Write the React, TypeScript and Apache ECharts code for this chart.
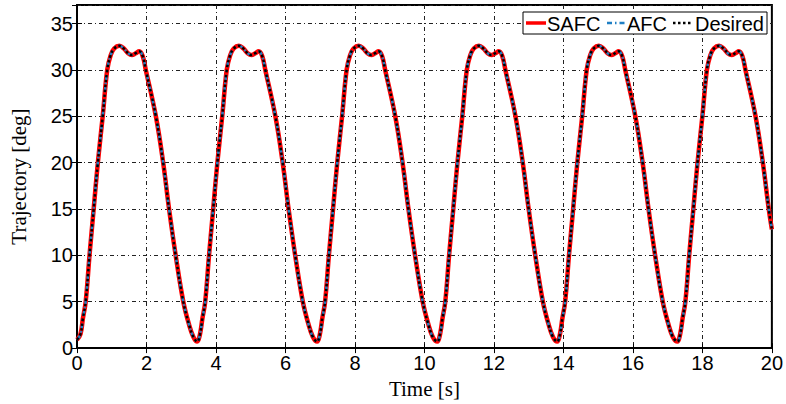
import React, { useEffect, useRef } from "react";
import * as echarts from "echarts";

// Time [s] and trajectory [deg] (all three curves overlap)
const time: number[] = [
  0, 0.10, 0.17, 0.25, 0.36, 0.48, 0.60, 0.74, 0.87, 0.97, 1.07, 1.22, 1.35, 1.47, 1.58, 1.69, 1.79, 1.89, 1.98, 2.27, 2.48, 2.65, 2.84, 3.06, 3.22, 3.35,
  3.46, 3.54, 3.61, 3.69, 3.80, 3.92, 4.04, 4.18, 4.31, 4.41, 4.51, 4.66, 4.79, 4.91, 5.02, 5.13, 5.23, 5.33, 5.42, 5.71, 5.92, 6.09, 6.28, 6.50, 6.66, 6.79,
  6.91, 6.99, 7.06, 7.14, 7.25, 7.37, 7.49, 7.63, 7.76, 7.86, 7.96, 8.11, 8.24, 8.36, 8.47, 8.58, 8.68, 8.78, 8.87, 9.16, 9.37, 9.54, 9.73, 9.95, 10.11, 10.24,
  10.37, 10.45, 10.52, 10.60, 10.71, 10.83, 10.95, 11.09, 11.22, 11.32, 11.42, 11.57, 11.70, 11.82, 11.93, 12.04, 12.14, 12.24, 12.33, 12.62, 12.83, 13.00, 13.19, 13.41, 13.57, 13.70,
  13.82, 13.90, 13.97, 14.05, 14.16, 14.28, 14.40, 14.54, 14.67, 14.77, 14.87, 15.02, 15.15, 15.27, 15.38, 15.49, 15.59, 15.69, 15.78, 16.07, 16.28, 16.45, 16.64, 16.86, 17.02, 17.15,
  17.28, 17.36, 17.43, 17.51, 17.62, 17.74, 17.86, 18.00, 18.13, 18.23, 18.33, 18.48, 18.61, 18.73, 18.84, 18.95, 19.05, 19.15, 19.24, 19.53, 19.74, 19.91, 20.0,
];

const desired: number[] = [
  0.9, 1.5, 3.2, 5, 10, 15, 20, 25, 30, 31.6, 32.3, 32.6, 32.3, 31.8, 31.6, 31.8, 32.0, 31.5, 30, 25, 20, 15, 10, 5, 2.6, 1.2,
  0.7, 1.5, 3.2, 5, 10, 15, 20, 25, 30, 31.6, 32.3, 32.6, 32.3, 31.8, 31.6, 31.8, 32.0, 31.5, 30, 25, 20, 15, 10, 5, 2.6, 1.2,
  0.7, 1.5, 3.2, 5, 10, 15, 20, 25, 30, 31.6, 32.3, 32.6, 32.3, 31.8, 31.6, 31.8, 32.0, 31.5, 30, 25, 20, 15, 10, 5, 2.6, 1.2,
  0.7, 1.5, 3.2, 5, 10, 15, 20, 25, 30, 31.6, 32.3, 32.6, 32.3, 31.8, 31.6, 31.8, 32.0, 31.5, 30, 25, 20, 15, 10, 5, 2.6, 1.2,
  0.7, 1.5, 3.2, 5, 10, 15, 20, 25, 30, 31.6, 32.3, 32.6, 32.3, 31.8, 31.6, 31.8, 32.0, 31.5, 30, 25, 20, 15, 10, 5, 2.6, 1.2,
  0.7, 1.5, 3.2, 5, 10, 15, 20, 25, 30, 31.6, 32.3, 32.6, 32.3, 31.8, 31.6, 31.8, 32.0, 31.5, 30, 25, 20, 15, 12.8,
];

// The SAFC and AFC responses track the desired trajectory so closely that they coincide in the picture
const safc: number[] = desired.slice();
const afc: number[] = desired.slice();

const seriesNames = ["SAFC", "AFC", "Desired"];
const seriesColors = ["#ff0000", "#1f7fc4", "#000000"];

const toPairs = (vals: number[]) => vals.map((v, i) => [time[i], v]);

export default function App() {
  const ref = useRef<HTMLDivElement>(null);

  useEffect(() => {
    if (!ref.current) return;
    const chart = echarts.init(ref.current, undefined, { renderer: "svg" });

    const gridLine = { show: true, lineStyle: { color: "#222", width: 1, type: [4, 3, 1, 3] as any } };
    const sansFamily = "'Liberation Sans', Arial, Helvetica, sans-serif";
    const tickFont = { fontFamily: sansFamily, fontSize: 20, color: "#000" };
    const titleFont = { fontFamily: "'Liberation Serif', 'Times New Roman', serif", fontSize: 21, color: "#000" };

    const lineStyles = [
      { color: seriesColors[0], width: 4.5, type: "solid" },
      { color: seriesColors[1], width: 2.5, type: [5, 3, 1.5, 3] },
      { color: seriesColors[2], width: 2.5, type: [2.5, 2.5] },
    ];

    // Legend drawn as graphic (line samples without markers, as in the reference)
    const legendY = 23;
    const legendItems = [
      { x1: 526, x2: 546, tx: 547 },
      { x1: 607, x2: 626, tx: 627 },
      { x1: 673, x2: 693, tx: 695 },
    ];
    const legendGraphic: any[] = [
      {
        type: "rect",
        shape: { x: 523, y: 12, width: 244, height: 22 },
        style: { fill: "#fff", stroke: "#000", lineWidth: 1 },
        z: 100,
      },
    ];
    legendItems.forEach((it, i) => {
      const ls = lineStyles[i];
      legendGraphic.push({
        type: "line",
        shape: { x1: it.x1, y1: legendY, x2: it.x2, y2: legendY },
        style: {
          stroke: ls.color,
          lineWidth: i === 0 ? 3.5 : 2.5,
          lineDash: Array.isArray(ls.type) ? ls.type : null,
        },
        z: 101,
      });
      legendGraphic.push({
        type: "text",
        x: it.tx,
        y: legendY + 1,
        style: {
          text: seriesNames[i],
          fill: "#000",
          font: `20px ${sansFamily}`,
          textAlign: "left",
          textVerticalAlign: "middle",
        },
        z: 101,
      });
    });

    chart.setOption({
      animation: false,
      backgroundColor: "#fff",
      grid: {
        left: 74,
        right: 11,
        top: 5,
        bottom: 47,
        show: true,
        borderColor: "#000",
        borderWidth: 2,
        backgroundColor: "transparent",
      },
      graphic: legendGraphic,
      xAxis: [
        {
          type: "value",
          min: 0,
          max: 20,
          interval: 2,
          position: "bottom",
          name: "Time [s]",
          nameLocation: "middle",
          nameGap: 26,
          nameTextStyle: titleFont,
          axisLine: { show: true, lineStyle: { color: "#000", width: 2 } },
          axisTick: { show: true, inside: true, length: 5, lineStyle: { color: "#000", width: 1 } },
          axisLabel: { ...tickFont, margin: 5 },
          splitLine: gridLine,
        },
        {
          type: "value",
          min: 0,
          max: 20,
          interval: 2,
          position: "top",
          axisLine: { show: true, lineStyle: { color: "#000", width: 2 } },
          axisTick: { show: true, inside: true, length: 5, lineStyle: { color: "#000", width: 1 } },
          axisLabel: { show: false },
          splitLine: { show: false },
        },
      ],
      yAxis: [
        {
          type: "value",
          min: 0,
          max: 37,
          interval: 5,
          position: "left",
          name: "Trajectory [deg]",
          nameLocation: "middle",
          nameGap: 48,
          nameTextStyle: titleFont,
          axisLine: { show: true, lineStyle: { color: "#000", width: 2 } },
          axisTick: { show: true, inside: true, length: 5, lineStyle: { color: "#000", width: 1 } },
          axisLabel: { ...tickFont, margin: 4 },
          splitLine: gridLine,
        },
        {
          type: "value",
          min: 0,
          max: 37,
          interval: 5,
          position: "right",
          axisLine: { show: true, lineStyle: { color: "#000", width: 2 } },
          axisTick: { show: true, inside: true, length: 5, lineStyle: { color: "#000", width: 1 } },
          axisLabel: { show: false },
          splitLine: { show: false },
        },
      ],
      series: [
        {
          name: "SAFC",
          type: "line",
          data: toPairs(safc),
          smooth: 0.4,
          symbol: "none",
          showSymbol: false,
          color: seriesColors[0],
          lineStyle: lineStyles[0],
          z: 2,
        },
        {
          name: "AFC",
          type: "line",
          data: toPairs(afc),
          smooth: 0.4,
          symbol: "none",
          showSymbol: false,
          color: seriesColors[1],
          lineStyle: lineStyles[1],
          z: 3,
        },
        {
          name: "Desired",
          type: "line",
          data: toPairs(desired),
          smooth: 0.4,
          symbol: "none",
          showSymbol: false,
          color: seriesColors[2],
          lineStyle: lineStyles[2],
          z: 4,
        },
      ],
    });

    return () => chart.dispose();
  }, []);

  return <div ref={ref} style={{ width: 786, height: 404, position: "absolute", left: 0, top: 0 }} />;
}
